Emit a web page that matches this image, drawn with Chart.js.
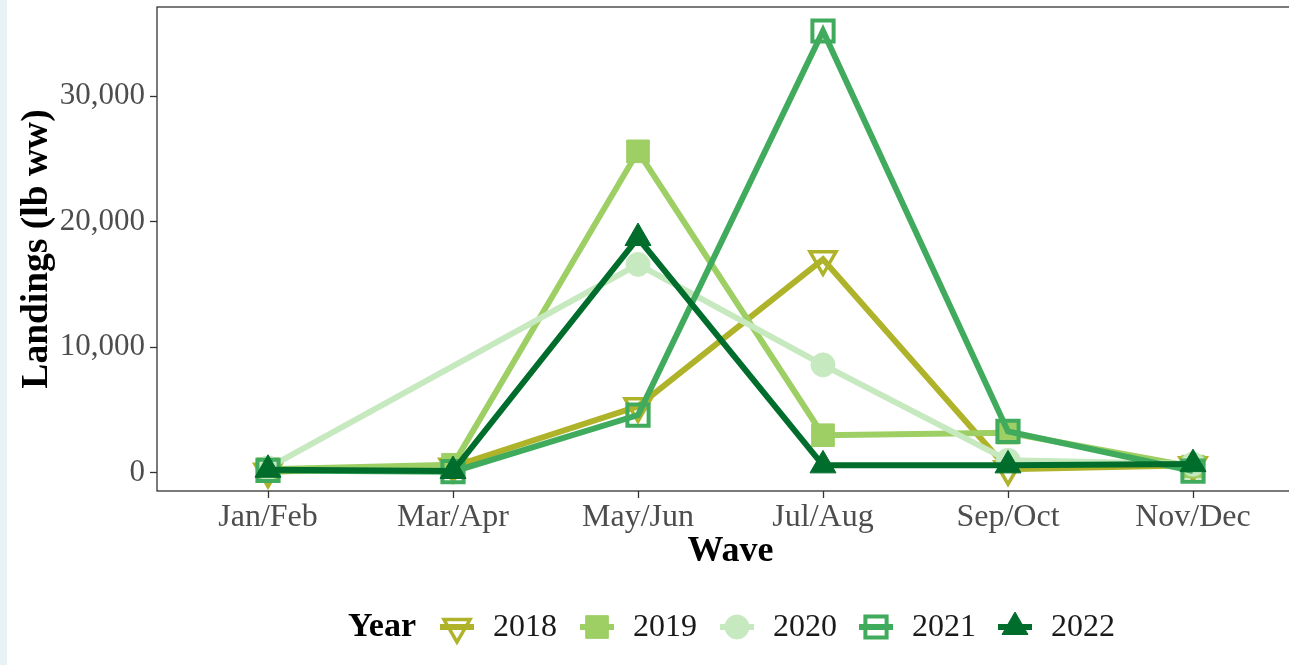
<!DOCTYPE html>
<html>
<head>
<meta charset="utf-8">
<script src="https://cdn.jsdelivr.net/npm/chart.js@4/dist/chart.umd.min.js"></script>
<style>
  html, body { margin: 0; padding: 0; overflow: hidden; }
  body { width: 1289px; height: 665px; background: linear-gradient(to right, #e8f1f5 0, #e8f1f5 7px, #fff 7px); }
  #wrap { position: absolute; left: 0; top: 0; width: 1320px; height: 665px; }
</style>
</head>
<body>
<div id="wrap"><canvas id="c" width="1320" height="665"></canvas></div>
<script>
// waves (two-month periods)
var waves = ['Jan/Feb', 'Mar/Apr', 'May/Jun', 'Jul/Aug', 'Sep/Oct', 'Nov/Dec'];
var years = ['2018', '2019', '2020', '2021', '2022'];

// landings (lb ww) per wave
var y2018 = [100, 500, 5300, 17000, 300, 600];
var y2019 = [300, 650, 25600, 3000, 3200, 500];
var y2020 = [400, null, 16600, 8600, 1000, 700];   // no Mar/Apr record
var y2021 = [200, 100, 4600, 35180, 3300, 150];
var y2022 = [250, 150, 18700, 600, 600, 700];

var yTicks = [0, 10000, 20000, 30000];

var colors = ['#aeb32a', '#9ecf64', '#c7e9c0', '#41ab5d', '#006d2c'];
var serif = "'Liberation Serif', 'Times New Roman', serif";

function pts(arr) {
  return arr.map(function (v, i) { return { x: i, y: v }; });
}

var styles = [
  { pointStyle: 'triangle', rot: 180, r: 15, fill: 'rgba(0,0,0,0)', bw: 3.5 },
  { pointStyle: 'rect', rot: 0, r: 16, fill: colors[1], bw: 1 },
  { pointStyle: 'circle', rot: 0, r: 12, fill: colors[2], bw: 1 },
  { pointStyle: 'rect', rot: 0, r: 15, fill: 'rgba(0,0,0,0)', bw: 4 },
  { pointStyle: 'triangle', rot: 0, r: 15, fill: colors[4], bw: 1 }
];

var series = [y2018, y2019, y2020, y2021, y2022];
var datasets = series.map(function (s, i) {
  return {
    label: years[i],
    data: pts(s),
    borderColor: colors[i],
    backgroundColor: styles[i].fill,
    pointBorderColor: colors[i],
    pointBackgroundColor: styles[i].fill,
    pointStyle: styles[i].pointStyle,
    pointRotation: styles[i].rot,
    pointRadius: styles[i].r,
    pointBorderWidth: styles[i].bw,
    borderWidth: 6,
    spanGaps: true,
    order: 4 - i
  };
});

function marker(ctx, st, color, x, y) {
  ctx.save();
  ctx.strokeStyle = color;
  ctx.fillStyle = st.fill;
  ctx.lineWidth = st.bw;
  ctx.beginPath();
  if (st.pointStyle === 'circle') {
    ctx.arc(x, y, st.r, 0, Math.PI * 2);
  } else if (st.pointStyle === 'rect') {
    var h = st.r * Math.SQRT1_2;
    ctx.rect(x - h, y - h, 2 * h, 2 * h);
  } else {
    var a = st.rot * Math.PI / 180;
    for (var k = 0; k < 3; k++) {
      var px = x + Math.sin(a) * st.r, py = y - Math.cos(a) * st.r;
      if (k === 0) ctx.moveTo(px, py); else ctx.lineTo(px, py);
      a += 2 * Math.PI / 3;
    }
    ctx.closePath();
  }
  ctx.fill();
  ctx.stroke();
  ctx.restore();
}

var panelAndLegend = {
  id: 'panelAndLegend',
  afterDraw: function (chart) {
    var ctx = chart.ctx, a = chart.chartArea;
    ctx.save();
    ctx.strokeStyle = '#333';
    ctx.lineWidth = 1.3;
    ctx.strokeRect(a.left, a.top, a.right - a.left, a.bottom - a.top);

    // legend
    var ly = 627;
    ctx.textBaseline = 'middle';
    ctx.fillStyle = '#000';
    ctx.font = 'bold 34px ' + serif;
    ctx.fillText('Year', 348, ly);
    var keyX = [457, 597, 737, 876, 1015];
    ctx.font = '32px ' + serif;
    years.forEach(function (yr, i) {
      var cx = keyX[i];
      ctx.strokeStyle = colors[i];
      ctx.lineWidth = 6;
      ctx.beginPath();
      ctx.moveTo(cx - 17, ly);
      ctx.lineTo(cx + 17, ly);
      ctx.stroke();
      marker(ctx, styles[i], colors[i], cx, ly);
      ctx.fillStyle = '#1a1a1a';
      ctx.fillText(yr, cx + 36, ly + 1);
    });
    ctx.restore();
  }
};

new Chart(document.getElementById('c'), {
  type: 'line',
  data: { datasets: datasets },
  plugins: [panelAndLegend],
  options: {
    responsive: false,
    animation: false,
    devicePixelRatio: 1,
    layout: { autoPadding: false, padding: { top: 7, right: 16, bottom: 91, left: 0 } },
    plugins: { legend: { display: false }, tooltip: { enabled: false } },
    scales: {
      x: {
        type: 'linear',
        min: -0.6,
        max: 5.6,
        afterBuildTicks: function (s) { s.ticks = waves.map(function (w, i) { return { value: i }; }); },
        afterFit: function (s) { s.height = 83; s.paddingLeft = 0; s.paddingRight = 0; },
        ticks: {
          callback: function (v) { return waves[v]; },
          font: { family: serif, size: 32 },
          color: '#4d4d4d',
          padding: 0,
          maxRotation: 0
        },
        grid: { drawOnChartArea: false, tickLength: 7, color: '#333', tickWidth: 1.3 },
        border: { display: false },
        title: { display: true, text: 'Wave', font: { family: serif, size: 36, weight: 'bold' }, color: '#000', padding: { top: 0, bottom: 1 } }
      },
      y: {
        min: -1440,
        max: 37090,
        afterBuildTicks: function (s) { s.ticks = yTicks.map(function (v) { return { value: v }; }); },
        afterFit: function (s) { s.width = 157; s.paddingTop = 0; s.paddingBottom = 0; },
        ticks: {
          callback: function (v) { return v.toLocaleString('en-US'); },
          font: { family: serif, size: 31 },
          color: '#4d4d4d',
          padding: 5
        },
        grid: { drawOnChartArea: false, tickLength: 7, color: '#333', tickWidth: 1.3 },
        border: { display: false },
        title: { display: true, text: 'Landings (lb ww)', font: { family: serif, size: 37.5, weight: 'bold' }, color: '#000', padding: { top: 15, bottom: 0 } }
      }
    }
  }
});
</script>
</body>
</html>
